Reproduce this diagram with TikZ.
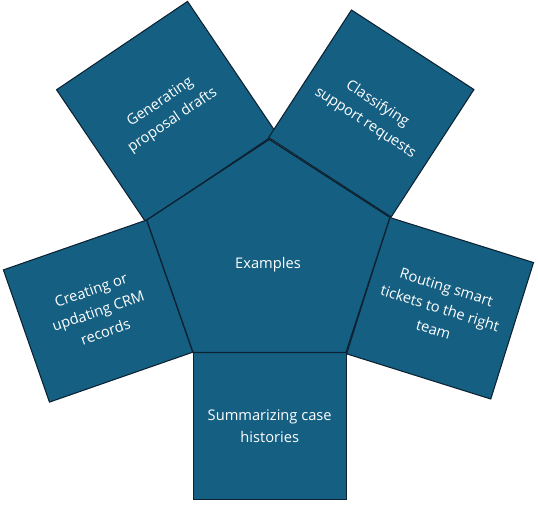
\documentclass[tikz,border=0pt]{standalone}
\usepackage{fontspec}
\setmainfont{Open Sans}
\usepackage{tikz}
\usetikzlibrary{positioning}
\definecolor{cardblue}{HTML}{156082}
\definecolor{cardedge}{HTML}{0C2233}
\newcommand{\edgewidth}{0.8pt}
\newcommand{\unitpx}{0.75pt}

\tikzset{
  card/.style={rectangle, fill=cardblue, draw=cardedge, line width=\edgewidth,
    inner sep=0pt, align=center, text=white,
    font=\fontsize{11}{16.5}\selectfont},
  hub/.style={fill=cardblue, draw=cardedge, line width=1.3*\edgewidth, line join=miter}
}

\begin{document}
\begin{tikzpicture}[x=\unitpx, y=-\unitpx]
\useasboundingbox (0,0) rectangle (538,504);
%cards round the hub
\node[card, rotate=34, minimum width=158*\unitpx, minimum height=159*\unitpx] (gen) at (166.5,111.5) {Generating\\proposal drafts};
\node[card, rotate=-33, minimum width=146*\unitpx, minimum height=152*\unitpx] (cls) at (371.3,113.5) {Classifying\\support requests};
\node[card, rotate=19.2, minimum width=152*\unitpx, minimum height=140*\unitpx] (crm) at (98.2,311) {Creating or\\updating CRM\\records};
\node[card, rotate=-17.4, minimum width=151*\unitpx, minimum height=143*\unitpx] (rt) at (440.1,308.2) {Routing smart\\tickets to the right\\team};
\node[card, minimum width=152.7*\unitpx, minimum height=146.6*\unitpx] (sum) at (269.7,426) {Summarizing case\\histories};
%hub
\coordinate (p1) at (269.3,139.3);
\coordinate (p2) at (390,217.3);
\coordinate (p3) at (346,352.5);
\coordinate (p4) at (193,352.5);
\coordinate (p5) at (146.7,220);
\draw[hub] (p1) -- (p2) -- (p3) -- (p4) -- (p5) -- cycle;
\node[text=white, font=\fontsize{11}{16.5}\selectfont] (ex) at (268,265) {Examples};
\end{tikzpicture}
\end{document}
